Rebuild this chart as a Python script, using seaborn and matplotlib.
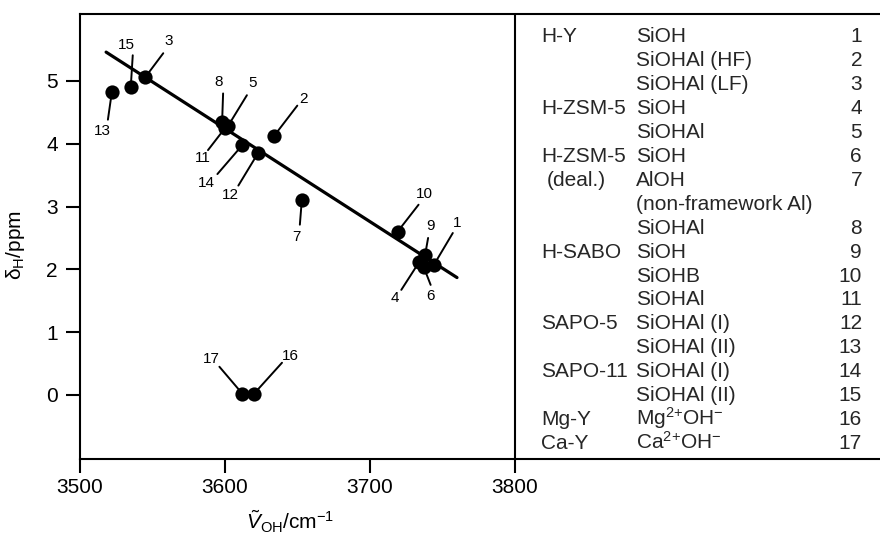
import numpy as np
import pandas as pd
import matplotlib
matplotlib.use("Agg")
import matplotlib.pyplot as plt
import seaborn as sns

# ---------------- data ----------------
site_ids = [str(i) for i in range(1, 18)]
wavenumber = [3744, 3634, 3545, 3734, 3602, 3737, 3653, 3598, 3738,
              3719, 3600, 3623, 3522, 3612, 3535, 3620, 3612]
delta_h = [2.07, 4.13, 5.06, 2.12, 4.28, 2.04, 3.11, 4.34, 2.23,
           2.60, 4.25, 3.86, 4.83, 3.98, 4.90, 0.02, 0.02]

fit_x = [3518, 3760]
fit_y = [5.46, 1.87]

x_ticks = [3500, 3600, 3700, 3800]
y_ticks = [0, 1, 2, 3, 4, 5]

zeolites = ["H-Y", "", "", "H-ZSM-5", "", "H-ZSM-5", "(deal.)", "", "",
            "H-SABO", "", "", "SAPO-5", "", "SAPO-11", "", "Mg-Y", "Ca-Y"]
oh_groups = ["SiOH", "SiOHAl (HF)", "SiOHAl (LF)", "SiOH", "SiOHAl", "SiOH",
             "AlOH", "(non-framework Al)", "SiOHAl", "SiOH", "SiOHB", "SiOHAl",
             "SiOHAl (I)", "SiOHAl (II)", "SiOHAl (I)", "SiOHAl (II)",
             r"Mg$^{2{+}}$OH$^{-}$", r"Ca$^{2{+}}$OH$^{-}$"]
row_numbers = ["1", "2", "3", "4", "5", "6", "7", "", "8", "9", "10", "11",
               "12", "13", "14", "15", "16", "17"]

df = pd.DataFrame({"nu": wavenumber, "delta": delta_h, "id": site_ids})
fit_df = pd.DataFrame({"nu": fit_x, "delta": fit_y})

# label leader layout (pixels): line end dx, dy(down), text dx, dy(down)
leader = {
    "1": (19, -32, 23, -42), "2": (23, -30, 29, -37), "3": (18, -24, 23, -36),
    "4": (-18, 28, -24, 36), "5": (19, -31, 25, -43), "6": (7, 18, 7, 29),
    "7": (-2, 25, -5, 37), "8": (1, -29, -3, -40), "9": (3, -17, 5, -29),
    "10": (21, -27, 27, -38), "11": (-17, 22, -22, 30), "12": (-20, 33, -28, 42),
    "13": (-4, 28, -10, 39), "14": (-25, 29, -36, 38), "15": (2, -32, -4, -42),
    "16": (28, -31, 36, -38), "17": (-23, -27, -31, -35),
}

# ---------------- style ----------------
sns.set_theme(style="ticks")
plt.rcParams["font.family"] = ["Liberation Sans", "DejaVu Sans"]
plt.rcParams["mathtext.fontset"] = "custom"
plt.rcParams["mathtext.rm"] = "Liberation Sans"
plt.rcParams["mathtext.it"] = "Liberation Sans:italic"
plt.rcParams["mathtext.bf"] = "Liberation Sans:bold"

W, H = 880, 539
fig = plt.figure(figsize=(W / 100, H / 100), dpi=100)
fig.patch.set_facecolor("white")

ax_l, ax_r, ax_t, ax_b = 80, 880, 14, 459
ax = fig.add_axes([ax_l / W, 1 - ax_b / H, (ax_r - ax_l) / W, (ax_b - ax_t) / H])
ax.set_facecolor("white")

x0 = 3500
px_per_unit = 1.45
ax.set_xlim(x0, x0 + (ax_r - ax_l) / px_per_unit)
ax.set_ylim((395 - ax_b) / 62.8, (395 - ax_t) / 62.8)

sns.lineplot(data=fit_df, x="nu", y="delta", ax=ax, color="black", lw=2.3,
             zorder=2, legend=False)
sns.scatterplot(data=df, x="nu", y="delta", ax=ax, color="black", s=105,
                edgecolor="black", linewidth=0, zorder=3, legend=False)

for xi, yi, lab in zip(wavenumber, delta_h, site_ids):
    edx, edy, tdx, tdy = leader[lab]
    ax.annotate("", xy=(xi, yi), xytext=(edx, -edy), textcoords="offset pixels",
                arrowprops=dict(arrowstyle="-", lw=1.4, color="black",
                                shrinkA=0, shrinkB=0), zorder=1)
    ax.annotate(lab, xy=(xi, yi), xytext=(tdx, -tdy), textcoords="offset pixels",
                ha="center", va="center", fontsize=11, color="black")

ax.axvline(3800, color="black", lw=1.5, zorder=1)

ax.set_xticks(x_ticks)
ax.set_yticks(y_ticks)
ax.set_xticklabels([str(v) for v in x_ticks])
ax.set_yticklabels([str(v) for v in y_ticks])
ax.tick_params(axis="both", direction="out", length=10, width=1.5,
               labelsize=15, colors="black")
ax.tick_params(axis="y", pad=6)
ax.tick_params(axis="x", pad=4)
for side in ["left", "top", "bottom"]:
    ax.spines[side].set_linewidth(1.5)
    ax.spines[side].set_color("black")
ax.spines["right"].set_visible(False)

ax.set_xlabel(r"$\tilde{V}_{\mathrm{OH}}$/cm$^{-1}$", fontsize=15, color="black")
ax.xaxis.set_label_coords((3645 - x0) * px_per_unit / (ax_r - ax_l), -0.112)
ax.set_ylabel(r"δ$_{\mathrm{H}}$/ppm", fontsize=15, color="black")
ax.yaxis.set_label_coords((27 - ax_l) / (ax_r - ax_l), 0.481)

# ---------------- table ----------------
row0_base = 42.5
row_step = 23.9
for i, (z, g, n) in enumerate(zip(zeolites, oh_groups, row_numbers)):
    yb = 1 - (row0_base + i * row_step) / H
    zx = 547 if z.startswith("(") else 541
    if z:
        fig.text(zx / W, yb, z, ha="left", va="baseline", fontsize=15)
    fig.text(636 / W, yb, g, ha="left", va="baseline", fontsize=15)
    if n:
        fig.text(862 / W, yb, n, ha="right", va="baseline", fontsize=15)

fig.savefig("out.png", dpi=100, facecolor="white")
